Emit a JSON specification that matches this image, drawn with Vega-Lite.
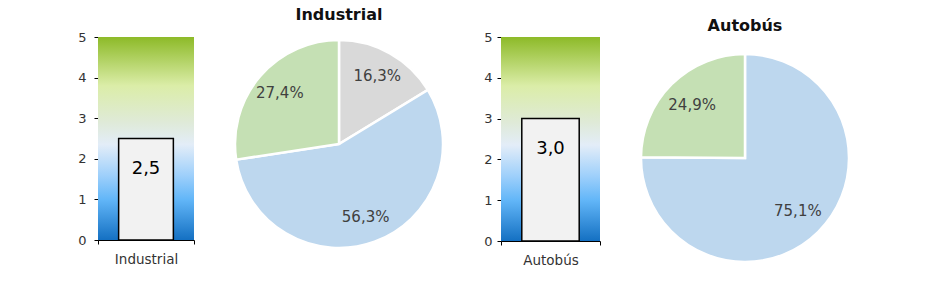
{
  "$schema": "https://vega.github.io/schema/vega-lite/v6.json",
  "padding": {"left": 77, "top": 7, "right": 10, "bottom": 5},
  "background": "white",
  "config": {
    "view": {"stroke": null},
    "font": "DejaVu Sans",
    "axis": {"labelFont": "DejaVu Sans", "labelFontSize": 13, "labelColor": "#333333", "domainColor": "#000000", "tickColor": "#000000", "grid": false, "title": null, "tickSize": 4},
    "title": {"font": "DejaVu Sans", "fontSize": 16, "fontWeight": "bold", "color": "#111111"}
  },
  "datasets": {
    "bars": [
      {"chart": "Industrial", "value": 2.5, "max": 5, "label": "2,5"},
      {"chart": "Autobús", "value": 3.0, "max": 5, "label": "3,0"}
    ],
    "pies": [
      {"chart": "Industrial", "cat": "Otros", "share": 16.3, "label": "16,3%", "order": 1},
      {"chart": "Industrial", "cat": "A", "share": 56.3, "label": "56,3%", "order": 2},
      {"chart": "Industrial", "cat": "B", "share": 27.4, "label": "27,4%", "order": 3},
      {"chart": "Autobús", "cat": "A", "share": 75.1, "label": "75,1%", "order": 1},
      {"chart": "Autobús", "cat": "B", "share": 24.9, "label": "24,9%", "order": 2}
    ]
  },
  "spacing": 34,
  "hconcat": [
    {
      "width": 96, "height": 203,
      "data": {"name": "bars"},
      "transform": [{"filter": "datum.chart === 'Industrial'"}],
      "encoding": {
        "x": {"field": "chart", "type": "nominal", "scale": {"paddingInner": 0, "paddingOuter": 0}, "axis": {"labelAngle": 0, "tickBand": "extent", "labelPadding": 8, "labelFontSize": 13.5}}
      },
      "layer": [
        {
          "mark": {"type": "bar", "width": {"band": 1}, "fill": {"gradient": "linear", "x1": 0, "y1": 1, "x2": 0, "y2": 0, "stops": [
            {"offset": 0, "color": "#1470c2"},
            {"offset": 0.2, "color": "#62b6f8"},
            {"offset": 0.32, "color": "#9fd0fb"},
            {"offset": 0.47, "color": "#e3edf8"},
            {"offset": 0.58, "color": "#dfead8"},
            {"offset": 0.76, "color": "#dbeda8"},
            {"offset": 1, "color": "#8dba28"}
          ]}},
          "encoding": {"y": {"field": "max", "type": "quantitative", "scale": {"domain": [0, 5]}, "axis": {"values": [0, 1, 2, 3, 4, 5], "labelPadding": 8}}}
        },
        {
          "mark": {"type": "bar", "width": {"band": 0.57}, "fill": "#f2f2f2", "stroke": "#000000", "strokeWidth": 1.5},
          "encoding": {"y": {"field": "value", "type": "quantitative"}}
        },
        {
          "mark": {"type": "text", "dy": 30, "fontSize": 18, "color": "#000000"},
          "encoding": {"y": {"field": "value", "type": "quantitative"}, "text": {"field": "label"}}
        }
      ]
    },
    {
      "width": 220, "height": 214,
      "title": {"text": "Industrial", "offset": 12},
      "data": {"name": "pies"},
      "transform": [{"filter": "datum.chart === 'Industrial'"}],
      "encoding": {
        "theta": {"field": "share", "type": "quantitative", "stack": true},
        "order": {"field": "order"}
      },
      "layer": [
        {
          "mark": {"type": "arc", "radius": 104, "stroke": "white", "strokeWidth": 2.5},
          "encoding": {"color": {"field": "cat", "type": "nominal", "scale": {"domain": ["Otros", "A", "B"], "range": ["#d9d9d9", "#bdd7ee", "#c5e0b4"]}, "legend": null}}
        },
        {
          "mark": {"type": "text", "radius": 78, "fontSize": 15, "color": "#404040"},
          "encoding": {"text": {"field": "label"}}
        }
      ]
    },
    {
      "width": 99, "height": 204,
      "data": {"name": "bars"},
      "transform": [{"filter": "datum.chart === 'Autobús'"}],
      "encoding": {
        "x": {"field": "chart", "type": "nominal", "scale": {"paddingInner": 0, "paddingOuter": 0}, "axis": {"labelAngle": 0, "tickBand": "extent", "labelPadding": 8, "labelFontSize": 13.5}}
      },
      "layer": [
        {
          "mark": {"type": "bar", "width": {"band": 1}, "fill": {"gradient": "linear", "x1": 0, "y1": 1, "x2": 0, "y2": 0, "stops": [
            {"offset": 0, "color": "#1470c2"},
            {"offset": 0.2, "color": "#62b6f8"},
            {"offset": 0.32, "color": "#9fd0fb"},
            {"offset": 0.47, "color": "#e3edf8"},
            {"offset": 0.58, "color": "#dfead8"},
            {"offset": 0.76, "color": "#dbeda8"},
            {"offset": 1, "color": "#8dba28"}
          ]}},
          "encoding": {"y": {"field": "max", "type": "quantitative", "scale": {"domain": [0, 5]}, "axis": {"values": [0, 1, 2, 3, 4, 5], "labelPadding": 5}}}
        },
        {
          "mark": {"type": "bar", "width": {"band": 0.58}, "fill": "#f2f2f2", "stroke": "#000000", "strokeWidth": 1.5},
          "encoding": {"y": {"field": "value", "type": "quantitative"}}
        },
        {
          "mark": {"type": "text", "dy": 30, "fontSize": 18, "color": "#000000"},
          "encoding": {"y": {"field": "value", "type": "quantitative"}, "text": {"field": "label"}}
        }
      ]
    },
    {
      "width": 220, "height": 242,
      "title": {"text": "Autobús", "offset": 3},
      "data": {"name": "pies"},
      "transform": [{"filter": "datum.chart === 'Autobús'"}],
      "encoding": {
        "theta": {"field": "share", "type": "quantitative", "stack": true},
        "order": {"field": "order"}
      },
      "layer": [
        {
          "mark": {"type": "arc", "radius": 104, "stroke": "white", "strokeWidth": 2.5},
          "encoding": {"color": {"field": "cat", "type": "nominal", "scale": {"domain": ["A", "B"], "range": ["#bdd7ee", "#c5e0b4"]}, "legend": null}}
        },
        {
          "mark": {"type": "text", "radius": 75, "fontSize": 15, "color": "#404040"},
          "encoding": {"text": {"field": "label"}}
        }
      ]
    }
  ]
}
